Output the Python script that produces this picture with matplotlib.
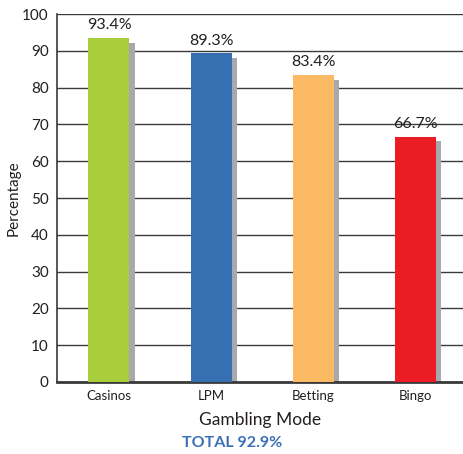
import numpy as np
import matplotlib
matplotlib.use("Agg")
import matplotlib.pyplot as plt

plt.rcParams['font.family'] = ['Lato', 'DejaVu Sans']

modes = ["Casinos", "LPM", "Betting", "Bingo"]
percent = [93.4, 89.3, 83.4, 66.7]
colors = ["#a8cd3a", "#3670b3", "#fbb964", "#ec1c24"]
total_label = "TOTAL 92.9%"

fig = plt.figure(figsize=(4.64, 4.54), dpi=100)
ax = fig.add_axes([0.1228, 0.1586, 0.877, 0.8104])

x = np.arange(len(modes))
bar_w = 0.40
# grey drop shadow behind each bar
ax.bar(x + 0.05, np.array(percent) - 1.3, width=bar_w, color="#a7a9ac", zorder=2)
ax.bar(x, percent, width=bar_w, color=colors, zorder=3)

for xi, v in zip(x, percent):
    ax.text(xi, v + 1.6, "%.1f%%" % v, ha="center", va="bottom", fontsize=11.5, color="#231f20")

ax.set_xlim(-0.508, 3.47)
ax.set_ylim(0, 100)
ax.set_yticks(range(0, 101, 10))
ax.yaxis.grid(True, color="#3a3a3a", linewidth=1.0, zorder=0)
ax.set_axisbelow(True)
ax.set_xticks(x)
ax.set_xticklabels(modes, fontsize=9.5, color="#231f20")
ax.tick_params(axis="y", labelsize=11, length=0, pad=6, colors="#231f20")
ax.tick_params(axis="x", length=0, pad=6)

for side in ["top", "right"]:
    ax.spines[side].set_visible(False)
ax.spines["left"].set_color("#3a3a3a")
ax.spines["left"].set_linewidth(1.2)
ax.spines["bottom"].set_color("#3a3a3a")
ax.spines["bottom"].set_linewidth(2.0)

ax.set_ylabel("Percentage", fontsize=11, color="#231f20", labelpad=1)
ax.set_xlabel("Gambling Mode", fontsize=12.5, color="#231f20", labelpad=7)

fig.text(0.5, 0.009, total_label, ha="center", va="bottom", fontsize=11.5,
         fontweight="bold", color="#3b6fb6")

fig.savefig("out.png", dpi=100)
